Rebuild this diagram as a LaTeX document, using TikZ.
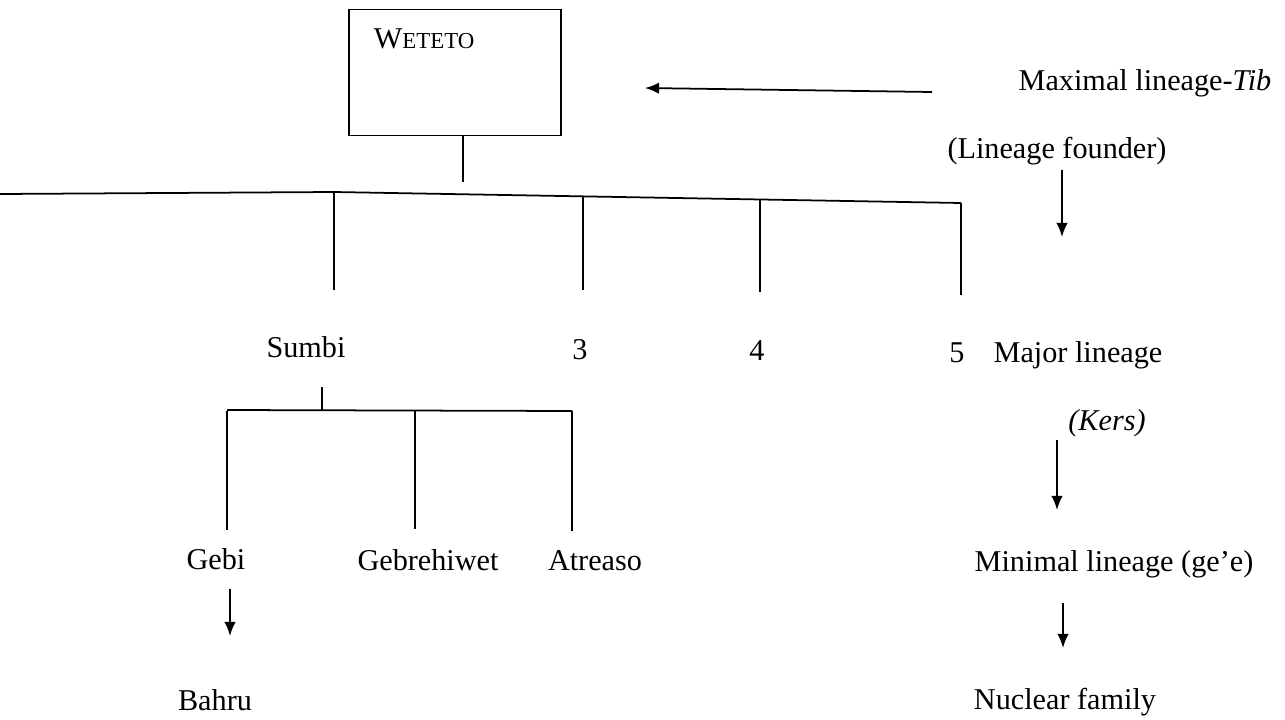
\documentclass[tikz,border=0pt]{standalone}
\usepackage{fontspec}
\setmainfont{Liberation Serif}
\usetikzlibrary{arrows.meta, positioning}

\tikzset{lbl/.style={inner sep=0pt, anchor=base, font=\fontsize{17.2}{20}\selectfont}}

\begin{document}
\begin{tikzpicture}[>={Latex[length=8pt, width=6.5pt]}, x=0.02cm, y=-0.02cm, line width=1pt]

\useasboundingbox (0,0) rectangle (1285,720);

%\draw[step=50, color=gray!40] (0,0) grid (1285,720);

% lineage founder
\node[draw, minimum width=4.24cm, minimum height=2.52cm] (founder) at (455,72.5) {};
\node[lbl, anchor=base west] (weteto) at (373,49) {W{\fontsize{13}{15}\selectfont ETETO}};

\coordinate (stem-t) at (463,135.5);
\coordinate (stem-b) at (463,182);
\draw (stem-t) -- (stem-b);

\coordinate (bar-l) at (0,194);
\coordinate (bar-m) at (334,192);
\coordinate (bar-r) at (961,203);
\draw (bar-l) -- (bar-m) -- (bar-r);

\foreach \n/\x/\yt/\yb in {sumbi/334/192/290, three/583/196/290, four/760/199.5/292, five/961/203/295}
{
\coordinate (\n-t) at (\x,\yt);
\coordinate (\n-b) at (\x,\yb);
\draw (\n-t) -- (\n-b);
}

% major lineages
\node[lbl] (sumbi) at (306,357.5) {Sumbi};
\node[lbl] (n3) at (580,359) {3};
\node[lbl] (n4) at (757,360) {4};
\node[lbl] (n5) at (957,362) {5};

% minimal lineages of Sumbi
\coordinate (sub-stem-t) at (322,387);
\coordinate (sub-l) at (227,410);
\coordinate (sub-m) at (322,410);
\coordinate (sub-r) at (572,411);
\draw (sub-stem-t) -- (sub-m);
\draw (sub-l) -- (sub-r);

\foreach \n/\x/\yb in {gebi/227/530, gebre/415/529, atreaso/572/531}
{
\coordinate (\n-t) at (\x,410.5);
\coordinate (\n-b) at (\x,\yb);
\draw (\n-t) -- (\n-b);
}

\node[lbl] (gebi) at (216,569) {Gebi};
\node[lbl] (gebre) at (428,570) {Gebrehiwet};
\node[lbl] (atreaso) at (595,570) {Atreaso};

\coordinate (gebi-a) at (230,589);
\coordinate (gebi-z) at (230,636);
\draw[->] (gebi-a) -- (gebi-z);
\node[lbl] (bahru) at (215,710) {Bahru};

% levels
\node[lbl] (maximal) at (1145,90) {Maximal lineage-\textit{Tib}};
\coordinate (max-a) at (932,92);
\coordinate (max-z) at (645,88);
\draw[->] (max-a) -- (max-z);

\node[lbl] (founderlbl) at (1057,158) {(Lineage founder)};
\coordinate (lf-a) at (1062,170);
\coordinate (lf-z) at (1062,237);
\draw[->] (lf-a) -- (lf-z);

\node[lbl] (major) at (1078,362) {Major lineage};
\node[lbl] (kers) at (1107,430) {\textit{(Kers)}};
\coordinate (kers-a) at (1057,440);
\coordinate (kers-z) at (1057,510);
\draw[->] (kers-a) -- (kers-z);

\node[lbl] (minimal) at (1114,571) {Minimal lineage (ge’e)};
\coordinate (min-a) at (1063,603);
\coordinate (min-z) at (1063,648);
\draw[->] (min-a) -- (min-z);

\node[lbl] (nuclear) at (1065,709) {Nuclear family};

\end{tikzpicture}
\end{document}
